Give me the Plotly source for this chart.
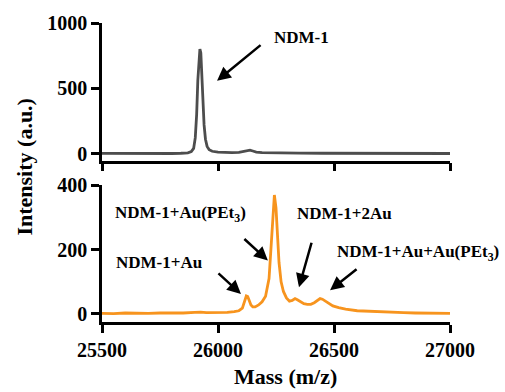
import plotly.graph_objects as go

# Top spectrum: NDM-1
mass_top = [25500, 25550, 25600, 25650, 25700, 25750, 25800, 25840, 25870, 25885, 25895,
            25902, 25908, 25913, 25918, 25922, 25926, 25930, 25935, 25940, 25946, 25953,
            25962, 25975, 26000, 26030, 26060, 26090, 26110, 26125, 26138, 26150, 26165,
            26190, 26230, 26280, 26350, 26450, 26550, 26650, 26750, 26850, 26950, 27000]
int_top = [2, 1, 2, 0, 1, 2, 1, 3, 6, 15, 40,
           120, 300, 560, 740, 800, 770, 620, 400, 220, 110, 55,
           30, 18, 12, 9, 8, 10, 15, 22, 26, 20, 12,
           8, 6, 5, 4, 3, 3, 2, 2, 1, 2, 1]

# Bottom spectrum: NDM-1 + Au compound
mass_bot = [25500, 25550, 25600, 25650, 25700, 25750, 25800, 25850, 25900, 25925, 25950,
            26000, 26040, 26070, 26090, 26105, 26115, 26122, 26128, 26134, 26142, 26150,
            26160, 26175, 26190, 26205, 26220, 26228, 26235, 26243, 26250, 26256, 26263,
            26272, 26282, 26295, 26308, 26320, 26332, 26342, 26355, 26370, 26385, 26400,
            26415, 26428, 26440, 26450, 26462, 26478, 26495, 26520, 26550, 26600, 26650,
            26700, 26750, 26800, 26850, 26900, 26950, 27000]
int_bot = [2, 1, 3, 2, 2, 3, 2, 3, 5, 6, 4,
           4, 5, 7, 10, 18, 40, 56, 54, 40, 28, 22,
           22, 28, 38, 55, 110, 200, 300, 370, 330, 240, 160,
           100, 70, 50, 40, 42, 48, 44, 38, 32, 30, 30,
           35, 42, 48, 46, 40, 32, 25, 20, 15, 10, 8,
           6, 5, 4, 3, 3, 3, 2]

x_ticks = [25500, 26000, 26500, 27000]
x_ticklabels = ["25500", "26000", "26500", "27000"]
top_yticks = [0, 500, 1000]
top_yticklabels = ["0", "500", "1000"]
bot_yticks = [0, 200, 400]
bot_yticklabels = ["0", "200", "400"]

FONT = "Liberation Serif"
GREY = "#4d4d4d"
ORANGE = "#f7941e"


def bold(labels):
    return ["<b>" + s + "</b>" for s in labels]


fig = go.Figure()
fig.add_trace(go.Scatter(x=mass_top, y=int_top, mode="lines",
                         line=dict(color=GREY, width=2.8), xaxis="x", yaxis="y",
                         showlegend=False))
fig.add_trace(go.Scatter(x=mass_bot, y=int_bot, mode="lines",
                         line=dict(color=ORANGE, width=2.8), xaxis="x2", yaxis="y2",
                         showlegend=False))

axis_common = dict(showline=True, linecolor="black", linewidth=2.5, ticks="outside",
                   ticklen=8, tickwidth=2.5, tickcolor="black", showgrid=False,
                   zeroline=False, tickmode="array",
                   tickfont=dict(family=FONT, size=20, color="black"))

fig.update_layout(
    width=505, height=392,
    margin=dict(l=102, r=55, t=20, b=70),
    plot_bgcolor="white", paper_bgcolor="white",
    font=dict(family=FONT, color="black"),
    xaxis=dict(domain=[0, 1], anchor="y", range=[25500, 27000], tickvals=x_ticks,
               ticktext=bold(x_ticklabels), showticklabels=False, **axis_common),
    yaxis=dict(domain=[0.54, 1], anchor="x", range=[-53, 1000], tickvals=top_yticks,
               ticktext=bold(top_yticklabels), **axis_common),
    xaxis2=dict(domain=[0, 1], anchor="y2", range=[25500, 27000], tickvals=x_ticks,
                ticktext=bold(x_ticklabels), **axis_common),
    yaxis2=dict(domain=[0, 0.457], anchor="x2", range=[-25, 400], tickvals=bot_yticks,
                ticktext=bold(bot_yticklabels), **axis_common),
)

tfont = dict(family=FONT, size=17, color="black")
ann = []
# arrows
arrows = [
    ("x", "y", 25996, 557, 45, -37),
    ("x2", "y2", 26215, 166, -25, -23),
    ("x2", "y2", 26099, 62, -24, -22),
    ("x2", "y2", 26349, 83, 13, -46),
    ("x2", "y2", 26483, 74, 28, -22),
]
for xr, yr, hx, hy, ax, ay in arrows:
    ann.append(dict(xref=xr, yref=yr, x=hx, y=hy, ax=ax, ay=ay, text="",
                    showarrow=True, arrowhead=2, arrowsize=1.1, arrowwidth=2.5,
                    arrowcolor="black"))
labels = [
    ("x", "y", 26362, 891, "NDM-1"),
    ("x2", "y2", 25840, 311, "NDM-1+Au(PEt<sub>3</sub>)"),
    ("x2", "y2", 25746, 160, "NDM-1+Au"),
    ("x2", "y2", 26547, 311, "NDM-1+2Au"),
    ("x2", "y2", 26862, 191, "NDM-1+Au+Au(PEt<sub>3</sub>)"),
]
for xr, yr, lx, ly, t in labels:
    ann.append(dict(xref=xr, yref=yr, x=lx, y=ly, text="<b>" + t + "</b>",
                    showarrow=False, font=tfont, xanchor="center", yanchor="middle"))
# axis titles
ann.append(dict(xref="paper", yref="paper", x=-0.224, y=0.52, text="<b>Intensity (a.u.)</b>",
                textangle=-90, showarrow=False, font=dict(family=FONT, size=22, color="black"),
                xanchor="center", yanchor="middle"))
ann.append(dict(xref="paper", yref="paper", x=0.526, y=-0.182, text="<b>Mass (m/z)</b>",
                showarrow=False, font=dict(family=FONT, size=22, color="black"),
                xanchor="center", yanchor="middle"))
fig.update_layout(annotations=ann)

fig.write_html("out.html")
